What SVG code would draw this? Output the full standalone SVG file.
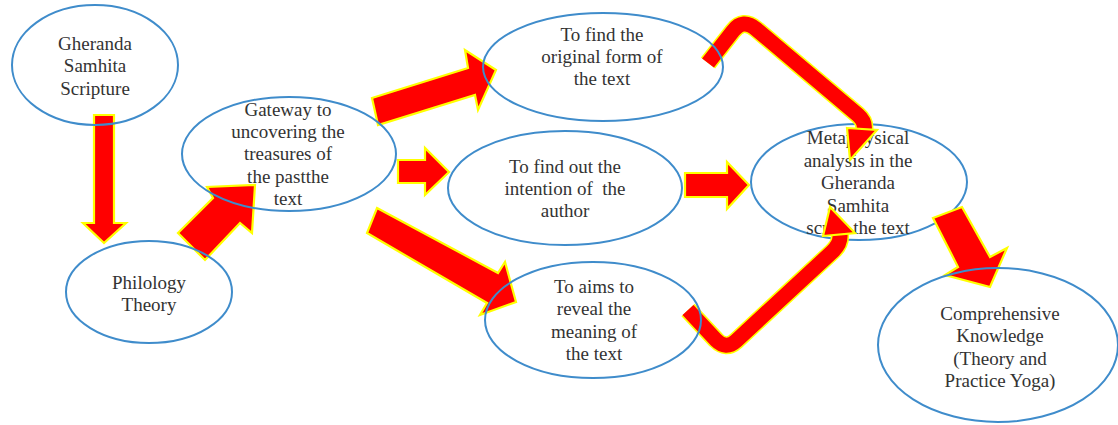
<svg xmlns="http://www.w3.org/2000/svg" width="1118" height="425" viewBox="0 0 1118 425">
<style>
.n{fill:none;stroke:#3f8ccb;stroke-width:2}
.t{font-family:"Liberation Serif","Times New Roman",serif;font-size:19px;fill:#333333;text-anchor:middle}
.a{fill:#ff0000;stroke:#ffff00;stroke-width:2.2;stroke-linejoin:miter}
.by{fill:none;stroke:#ffff00;stroke-width:18;stroke-linejoin:round}
.br{fill:none;stroke:#ff0000;stroke-width:15;stroke-linejoin:round}
</style>
<rect width="1118" height="425" fill="#ffffff"/>
<g id="node-metaphysical">
<ellipse class="n" cx="859" cy="182" rx="108" ry="58"/>
<text class="t"><tspan x="858" y="144">Metaphysical</tspan><tspan x="858" y="167">analysis in the</tspan><tspan x="858" y="189">Gheranda</tspan><tspan x="858" y="212">Samhita</tspan><tspan x="858" y="234">script.the text</tspan></text>
</g>
<g id="connectors">
<polygon class="a" points="94,115 114,115 114,223 126,223 104,243 83,223 94,223"/>
<polygon class="a" points="178,233 213,198 207,187 255,185 252,233 240,223 205,260"/>
<polygon class="a" points="372,98 468,68 465,50 496,70 478,110 475,95 378,125"/>
<polygon class="a" points="398,160 425,160 425,148 449,172 425,195 425,183 398,183"/>
<polygon class="a" points="377,208 498,273 505,262 516,302 480,315 487,303 367,233"/>
<polygon class="a" points="685,173 727,173 727,162 749,185 727,209 727,197 685,197"/>
<polygon class="a" points="933,218 962,207 990,257 1007,248 990,287 945,275 958,267"/>
<path class="by" d="M708,63 L733,31 Q743,18 756,29 L858,115 Q866,122 864,131"/>
<path class="br" d="M708,63 L733,31 Q743,18 756,29 L858,115 Q866,122 864,131"/>
<polygon class="a" points="847,128 877,130 850,160"/>
<path class="by" d="M688,310 L716,340 Q726,350 736,341 L832,252 Q841,244 840,234"/>
<path class="br" d="M688,310 L716,340 Q726,350 736,341 L832,252 Q841,244 840,234"/>
<polygon class="a" points="823,236 855,233 830,207"/>
</g>
<g id="node-gheranda">
<ellipse class="n" cx="95" cy="65" rx="83" ry="60"/>
<text class="t"><tspan x="95" y="50">Gheranda</tspan><tspan x="95" y="72">Samhita</tspan><tspan x="95" y="95">Scripture</tspan></text>
</g>
<g id="node-philology">
<ellipse class="n" cx="149" cy="292" rx="83" ry="51"/>
<text class="t"><tspan x="149" y="289">Philology</tspan><tspan x="149" y="311">Theory</tspan></text>
</g>
<g id="node-gateway">
<ellipse class="n" cx="289" cy="154" rx="107" ry="57"/>
<text class="t"><tspan x="288" y="116">Gateway to</tspan><tspan x="288" y="138">uncovering the</tspan><tspan x="288" y="160">treasures of</tspan><tspan x="288" y="183">the pastthe</tspan><tspan x="288" y="205">text</tspan></text>
</g>
<g id="node-original">
<ellipse class="n" cx="603" cy="67" rx="120" ry="54"/>
<text class="t"><tspan x="602" y="41">To find the</tspan><tspan x="602" y="63">original form of</tspan><tspan x="602" y="85">the text</tspan></text>
</g>
<g id="node-intention">
<ellipse class="n" cx="565" cy="188" rx="117" ry="57"/>
<text class="t" xml:space="preserve"><tspan x="565" y="173">To find out the</tspan><tspan x="565" y="195">intention of  the</tspan><tspan x="565" y="217">author</tspan></text>
</g>
<g id="node-meaning">
<ellipse class="n" cx="593" cy="320" rx="108" ry="58"/>
<text class="t"><tspan x="594" y="293">To aims to</tspan><tspan x="594" y="315">reveal the</tspan><tspan x="594" y="338">meaning of</tspan><tspan x="594" y="360">the text</tspan></text>
</g>
<g id="node-comprehensive">
<ellipse class="n" cx="998" cy="345" rx="120" ry="77"/>
<text class="t"><tspan x="1000" y="320">Comprehensive</tspan><tspan x="1000" y="342">Knowledge</tspan><tspan x="1000" y="365">(Theory and</tspan><tspan x="1000" y="387">Practice Yoga)</tspan></text>
</g>
</svg>
